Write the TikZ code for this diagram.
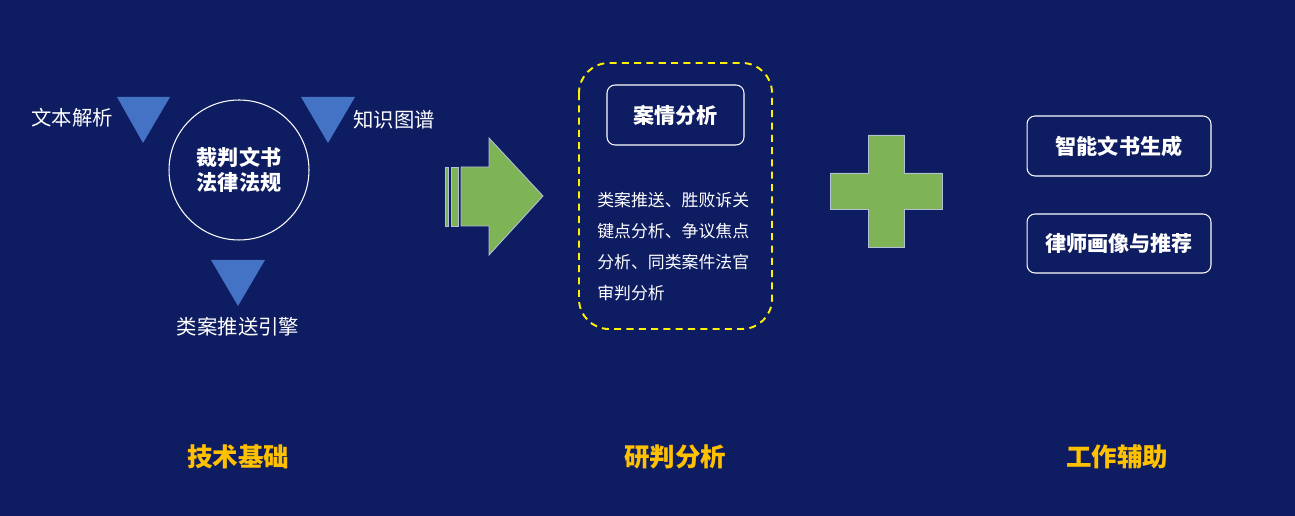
\documentclass[tikz,border=0pt]{standalone}
\usepackage{fontspec}
\setmainfont{Noto Sans CJK SC}
\usepackage{tikz}
\usetikzlibrary{positioning,calc}
\definecolor{JBg}{HTML}{0E1C62}
\definecolor{JBlue}{HTML}{4472C4}
\definecolor{JGreen}{HTML}{7EB356}
\definecolor{JEdge}{HTML}{B4C0D8}
\definecolor{JYellow}{HTML}{FFF200}
\definecolor{JGold}{HTML}{FFC000}
\tikzset{
  hub/.style={circle,draw=white,line width=0.6pt,minimum size=2.8cm,text=white,
              font=\fontsize{12}{14}\selectfont\bfseries,align=center},
  tri/.style={fill=JBlue},
  tag/.style={text=white,font=\fontsize{11.6}{14}\selectfont,inner sep=0pt},
  card/.style={draw=white,line width=0.6pt,rounded corners=1.6mm,text=white,
               font=\fontsize{12}{14}\selectfont\bfseries,align=center},
  dashbox/.style={draw=JYellow,line width=1.1pt,dash pattern=on 4pt off 3pt,rounded corners=6mm},
  copy/.style={text=white,font=\fontsize{9.6}{17.6}\selectfont,align=left,inner sep=0pt},
  greenshape/.style={fill=JGreen,draw=JEdge,line width=0.5pt},
  colhead/.style={text=JGold,font=\fontsize{14.5}{17}\selectfont\bfseries},
}

\begin{document}
\begin{tikzpicture}[x=0.02cm,y=-0.02cm]
  \fill[JBg] (0,0) rectangle (1295,516);
  \useasboundingbox (0,0) rectangle (1295,516);

  % technology base
  \node[hub] (base) at (239,170) {裁判文书\\法律法规};
  \fill[tri] (117,97) -- (170,97) -- (143,143) -- cycle;
  \fill[tri] (301,97) -- (355,97) -- (328,143) -- cycle;
  \fill[tri] (211,260) -- (265,260) -- (238,306) -- cycle;
  \node[tag] (parse) at (72,118) {文本解析};
  \node[tag] (graph) at (394,120) {知识图谱};
  \node[tag] (engine) at (238,327) {类案推送引擎};

  % arrow
  \path[greenshape] (445,167) rectangle (448,226);
  \path[greenshape] (451,167) rectangle (458,226);
  \path[greenshape] (461,167) -- (489,167) -- (489,138) -- (543,196)
    -- (489,255) -- (489,226) -- (461,226) -- cycle;

  % analysis
  \draw[dashbox] (579,63) rectangle (772,329);
  \node[card,minimum width=2.74cm,minimum height=1.2cm] (case) at (675.5,115) {案情分析};
  \node[copy,anchor=north west] (detail) at (597,192)
    {类案推送、胜败诉关\\键点分析、争议焦点\\分析、同类案件法官\\审判分析};

  % plus
  \path[greenshape] (868,135) -- (904,135) -- (904,173) -- (942,173) -- (942,209)
    -- (904,209) -- (904,247) -- (868,247) -- (868,209) -- (830,209)
    -- (830,173) -- (868,173) -- cycle;

  % assist
  \node[card,minimum width=3.68cm,minimum height=1.2cm] (draft) at (1119,146) {智能文书生成};
  \node[card,minimum width=3.68cm,minimum height=1.18cm] (lawyer) at (1119,243.5) {律师画像与推荐};

  \node[colhead] (h1) at (238,457) {技术基础};
  \node[colhead] (h2) at (675,457) {研判分析};
  \node[colhead] (h3) at (1117,457) {工作辅助};
\end{tikzpicture}
\end{document}
